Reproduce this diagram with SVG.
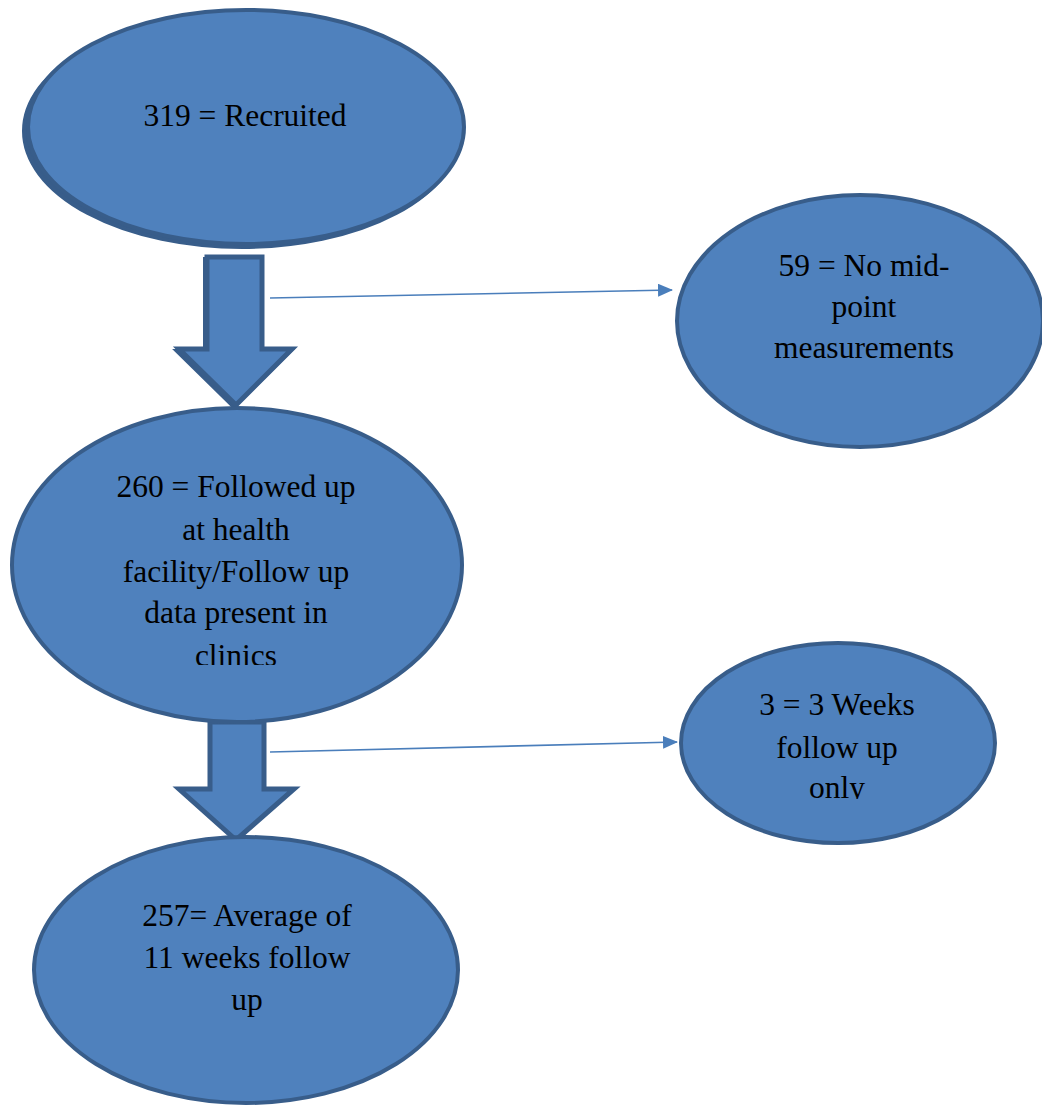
<svg xmlns="http://www.w3.org/2000/svg" width="1042" height="1106" viewBox="0 0 1042 1106">
<style>
.node{fill:#4F81BD;stroke:#385D8A;stroke-width:4}
.shadow{fill:#385D8A;stroke:#385D8A;stroke-width:4}
.blk{fill:#4F81BD;stroke:#385D8A;stroke-width:5;stroke-linejoin:miter}
.blkshadow{fill:none;stroke:#385D8A;stroke-width:4;stroke-linejoin:miter}
.lbl{font-family:"Liberation Serif","Times New Roman",serif;font-size:31.5px;fill:#000;text-anchor:middle}
.thin{stroke:#4A7EBB;stroke-width:1.6;fill:none}
</style>
<defs>
<marker id="ah" markerWidth="15" markerHeight="13" refX="14" refY="6.5" orient="auto" markerUnits="userSpaceOnUse" viewBox="0 0 15 13">
<path d="M0,0 L15,6.5 L0,13 z" fill="#4A7EBB"/>
</marker>
<clipPath id="clip260"><rect x="0" y="400" width="480" height="265"/></clipPath>
<clipPath id="clip3"><rect x="600" y="640" width="442" height="159"/></clipPath>
</defs>
<rect width="1042" height="1106" fill="#fff"/>
<g id="connectors">
<path class="blkshadow" d="M205,259 L260,259 L260,351 L290,351 L234,407 L177,351 L205,351 Z"/>
<path class="blk" d="M207,257 L262,257 L262,349 L292,349 L236,405 L179,349 L207,349 Z"/>
<path class="blk" d="M210,722 L264,722 L264,789 L294,789 L236,840 L179,789 L210,789 Z"/>
<line class="thin" x1="270" y1="298" x2="672" y2="290" marker-end="url(#ah)"/>
<line class="thin" x1="270" y1="752" x2="677" y2="742" marker-end="url(#ah)"/>
</g>
<g id="n319">
<ellipse class="shadow" cx="242" cy="131" rx="218" ry="116"/>
<ellipse class="node" cx="246" cy="127" rx="218" ry="117"/>
<text class="lbl" x="245" y="126">319 = Recruited</text>
</g>
<g id="n59">
<ellipse class="node" cx="860" cy="321" rx="183" ry="126"/>
<text class="lbl" x="864" y="276">59 = No mid-</text>
<text class="lbl" x="864" y="317">point</text>
<text class="lbl" x="864" y="358">measurements</text>
</g>
<g id="n260">
<ellipse class="node" cx="237" cy="565" rx="225" ry="157"/>
<g clip-path="url(#clip260)">
<text class="lbl" x="236" y="497">260 = Followed up</text>
<text class="lbl" x="236" y="540">at health</text>
<text class="lbl" x="236" y="582">facility/Follow up</text>
<text class="lbl" x="236" y="623">data present in</text>
<text class="lbl" x="236" y="666">clinics</text>
</g>
</g>
<g id="n3">
<ellipse class="node" cx="838" cy="743" rx="157" ry="100"/>
<g clip-path="url(#clip3)">
<text class="lbl" x="837" y="715">3 = 3 Weeks</text>
<text class="lbl" x="837" y="758">follow up</text>
<text class="lbl" x="837" y="798">only</text>
</g>
</g>
<g id="n257">
<ellipse class="node" cx="246" cy="970" rx="212" ry="133"/>
<text class="lbl" x="247" y="926">257= Average of</text>
<text class="lbl" x="247" y="968">11 weeks follow</text>
<text class="lbl" x="247" y="1010">up</text>
</g>
</svg>
